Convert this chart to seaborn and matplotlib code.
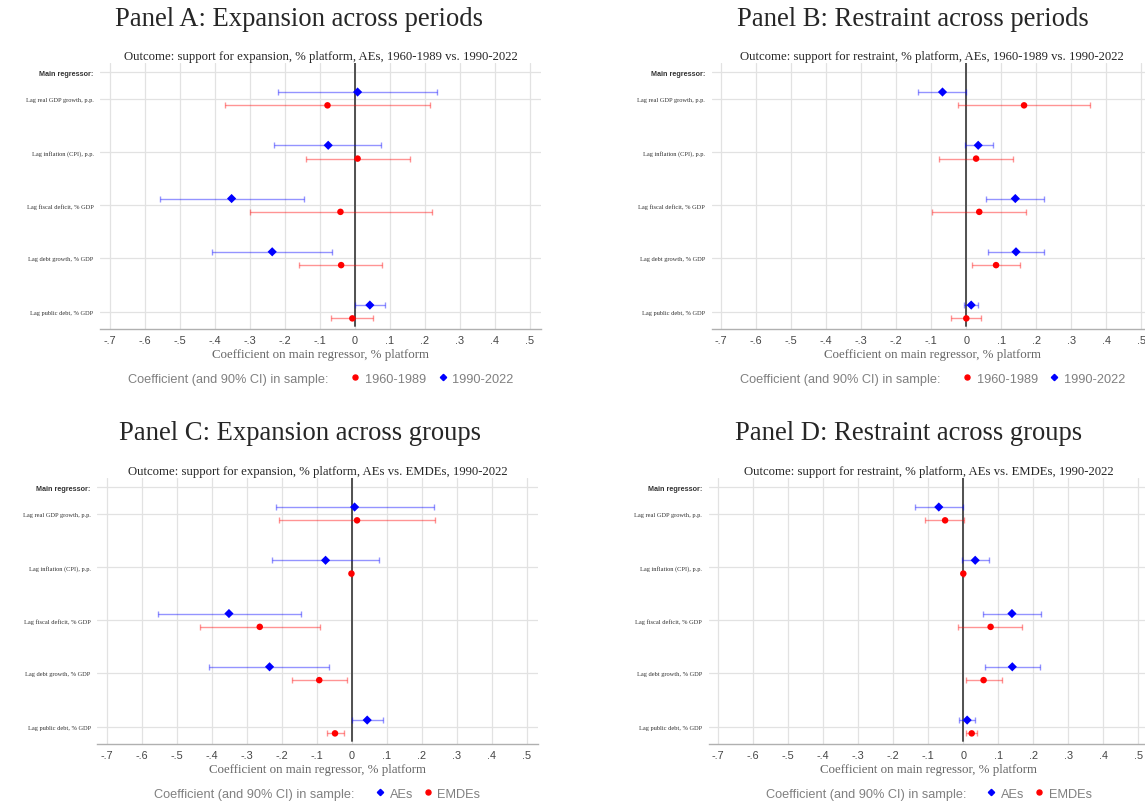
import matplotlib
matplotlib.use("Agg")
import matplotlib.pyplot as plt
from matplotlib.lines import Line2D
import numpy as np
import pandas as pd
import seaborn as sns

sns.set_style("white")
plt.rcParams["font.family"] = ["Liberation Serif", "DejaVu Serif"]
SANS = ["Liberation Sans", "DejaVu Sans"]

regressors = [
    "Lag real GDP growth, p.p.",
    "Lag inflation (CPI), p.p.",
    "Lag fiscal deficit, % GDP",
    "Lag debt growth, % GDP",
    "Lag public debt, % GDP",
]
x_ticks = [-0.7, -0.6, -0.5, -0.4, -0.3, -0.2, -0.1, 0.0, 0.1, 0.2, 0.3, 0.4, 0.5]
x_tick_labels = ["-.7", "-.6", "-.5", "-.4", "-.3", "-.2", "-.1", "0", ".1", ".2", ".3", ".4", ".5"]

# Panel A: expansion, AEs, 1960-1989 vs 1990-2022
a_early_coef = [-0.078, 0.008, -0.041, -0.039, -0.007]
a_early_lo = [-0.370, -0.139, -0.300, -0.158, -0.068]
a_early_hi = [0.215, 0.158, 0.221, 0.079, 0.053]
a_late_coef = [0.008, -0.076, -0.352, -0.236, 0.043]
a_late_lo = [-0.218, -0.230, -0.556, -0.409, 0.000]
a_late_hi = [0.235, 0.076, -0.145, -0.064, 0.087]

# Panel B: restraint, AEs, 1960-1989 vs 1990-2022
b_early_coef = [0.165, 0.028, 0.037, 0.085, 0.000]
b_early_lo = [-0.023, -0.077, -0.097, 0.016, -0.043]
b_early_hi = [0.353, 0.133, 0.170, 0.152, 0.043]
b_late_coef = [-0.068, 0.034, 0.140, 0.142, 0.014]
b_late_lo = [-0.138, -0.004, 0.057, 0.062, -0.008]
b_late_hi = [0.000, 0.075, 0.222, 0.221, 0.034]

# Panel C: expansion, AEs vs EMDEs, 1990-2022
c_ae_coef = [0.008, -0.075, -0.351, -0.235, 0.044]
c_ae_lo = [-0.217, -0.229, -0.555, -0.408, 0.000]
c_ae_hi = [0.235, 0.078, -0.144, -0.064, 0.088]
c_em_coef = [0.015, -0.001, -0.263, -0.093, -0.048]
c_em_lo = [-0.209, -0.003, -0.433, -0.171, -0.071]
c_em_hi = [0.237, 0.001, -0.092, -0.015, -0.023]

# Panel D: restraint, AEs vs EMDEs, 1990-2022
d_ae_coef = [-0.070, 0.034, 0.139, 0.140, 0.011]
d_ae_lo = [-0.139, -0.005, 0.056, 0.061, -0.011]
d_ae_hi = [0.000, 0.074, 0.221, 0.220, 0.034]
d_em_coef = [-0.052, 0.000, 0.078, 0.058, 0.024]
d_em_lo = [-0.109, -0.002, -0.014, 0.008, 0.009]
d_em_hi = [0.003, 0.002, 0.169, 0.110, 0.039]

RED = "#ff0000"
BLUE = "#0000ff"
GRID = "#e2e2e2"
LEGEND_LABEL = "Coefficient (and 90% CI) in sample:"


def draw_panel(ax, subtitle, upper, lower, red_first, label_end, legend_start):
    # upper = blue diamonds drawn above the category line, lower = red dots below it
    rows = np.arange(1, len(regressors) + 1)
    frames = []
    for (name, coef, lo, hi), color, shift in [(upper, BLUE, -0.125), (lower, RED, 0.125)]:
        coef = np.array(coef)
        lo = np.array(lo)
        hi = np.array(hi)
        pos = rows + shift
        ax.errorbar(coef, pos, xerr=[coef - lo, hi - coef], fmt="none", ecolor=color,
                    alpha=0.42, elinewidth=1.0, capsize=2.4, capthick=1.0, zorder=3)
        frames.append(pd.DataFrame({"coef": coef, "pos": pos, "sample": name}))
    df = pd.concat(frames, ignore_index=True)
    sns.scatterplot(data=df, x="coef", y="pos", hue="sample", style="sample",
                    palette={upper[0]: BLUE, lower[0]: RED},
                    markers={upper[0]: "D", lower[0]: "o"},
                    s=22, linewidth=0, legend=False, ax=ax, zorder=4)

    ax.axvline(0, ymin=0.01, color="#505050", lw=1.4, zorder=2)

    ax.set_xlim(-0.728, 0.532)
    ax.set_ylim(5.315, 0.33)
    ax.set_xticks(x_ticks)
    ax.set_xticklabels(x_tick_labels, fontfamily=SANS, fontsize=7.8, color="#444444")
    ax.set_yticks([0.5] + list(rows))
    ax.set_yticklabels(["Main regressor:"] + regressors, fontsize=4.6, color="#333333")
    first = ax.get_yticklabels()[0]
    first.set_fontfamily(SANS)
    first.set_fontweight("bold")
    first.set_fontsize(5.2)
    ax.tick_params(axis="x", length=3, width=0.8, color="#a0a0a0", pad=2)
    ax.tick_params(axis="y", length=3.5, width=0.8, color="#d0d0d0", pad=1)
    ax.grid(True, color=GRID, linewidth=0.9)
    ax.set_axisbelow(True)
    for side in ["top", "right", "left"]:
        ax.spines[side].set_visible(False)
    ax.spines["bottom"].set_color("#b0b0b0")
    ax.spines["bottom"].set_linewidth(1.0)

    ax.set_title(subtitle, fontsize=9.2, pad=3)
    ax.set_xlabel("Coefficient on main regressor, % platform", fontsize=9.3,
                  color="#666666", labelpad=2)
    ax.set_ylabel("")

    ax.text(label_end, -0.19, LEGEND_LABEL, transform=ax.transAxes, ha="right",
            va="center", fontfamily=SANS, fontsize=9.2, color="#808080")
    red_h = Line2D([], [], marker="o", color=RED, linestyle="none", markersize=3.6)
    blue_h = Line2D([], [], marker="D", color=BLUE, linestyle="none", markersize=3.2)
    if red_first:
        handles, names = [red_h, blue_h], [lower[0], upper[0]]
    else:
        handles, names = [blue_h, red_h], [upper[0], lower[0]]
    ax.legend(handles, names, loc="center left", bbox_to_anchor=(legend_start, -0.19),
              ncol=2, frameon=False, borderaxespad=0, borderpad=0,
              handlelength=0.6, handletextpad=0.45, columnspacing=0.85 if not red_first else 1.0,
              prop={"family": SANS, "size": 9.2}, labelcolor="#808080")


fig = plt.figure(figsize=(11.45, 8.03), dpi=100)
W, H = 1145, 803
ax_w, ax_h = 441 / W, 265.5 / H
ax_a = fig.add_axes([100 / W, 1 - 329.5 / H, ax_w, ax_h])
ax_b = fig.add_axes([711.5 / W, 1 - 329.5 / H, ax_w, ax_h])
ax_c = fig.add_axes([97 / W, 1 - 744.5 / H, ax_w, ax_h])
ax_d = fig.add_axes([708.5 / W, 1 - 744.5 / H, ax_w, ax_h])

draw_panel(ax_a, "Outcome: support for expansion, % platform, AEs, 1960-1989 vs. 1990-2022",
           ("1990-2022", a_late_coef, a_late_lo, a_late_hi),
           ("1960-1989", a_early_coef, a_early_lo, a_early_hi), True, 0.519, 0.57)
draw_panel(ax_b, "Outcome: support for restraint, % platform, AEs, 1960-1989 vs. 1990-2022",
           ("1990-2022", b_late_coef, b_late_lo, b_late_hi),
           ("1960-1989", b_early_coef, b_early_lo, b_early_hi), True, 0.52, 0.571)
draw_panel(ax_c, "Outcome: support for expansion, % platform, AEs vs. EMDEs, 1990-2022",
           ("AEs", c_ae_coef, c_ae_lo, c_ae_hi),
           ("EMDEs", c_em_coef, c_em_lo, c_em_hi), False, 0.585, 0.633)
draw_panel(ax_d, "Outcome: support for restraint, % platform, AEs vs. EMDEs, 1990-2022",
           ("AEs", d_ae_coef, d_ae_lo, d_ae_hi),
           ("EMDEs", d_em_coef, d_em_lo, d_em_hi), False, 0.585, 0.633)

fig.text(299 / W, 1 - 20 / H, "Panel A: Expansion across periods", ha="center", va="center", fontsize=19.2)
fig.text(913 / W, 1 - 20 / H, "Panel B: Restraint across periods", ha="center", va="center", fontsize=19.2)
fig.text(300 / W, 1 - 434 / H, "Panel C: Expansion across groups", ha="center", va="center", fontsize=19.2)
fig.text(909 / W, 1 - 434 / H, "Panel D: Restraint across groups", ha="center", va="center", fontsize=19.2)

fig.savefig("out.png", dpi=100)
